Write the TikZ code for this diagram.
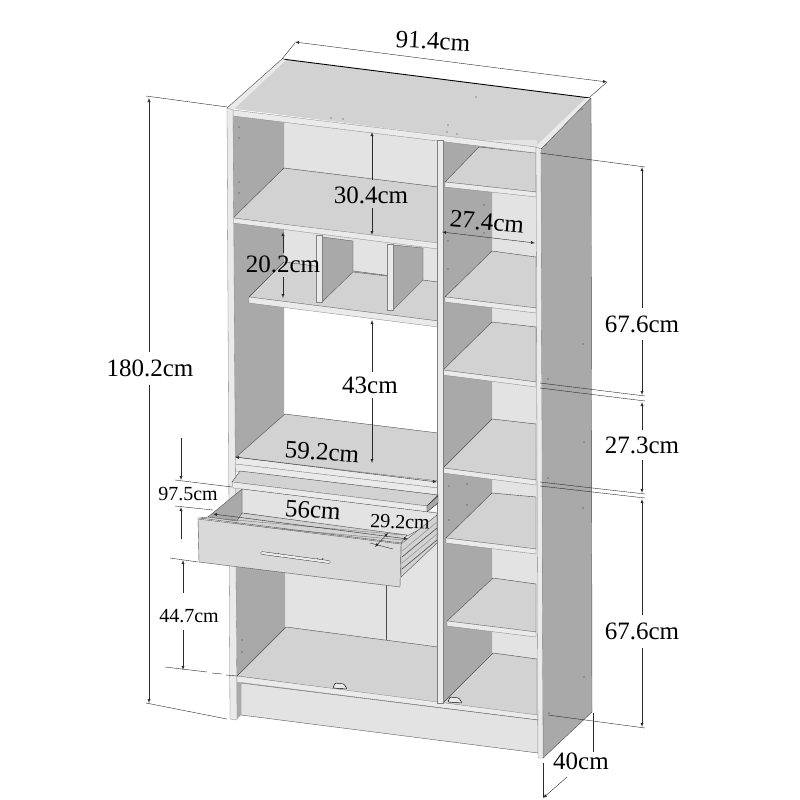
\documentclass[tikz,border=0pt]{standalone}
\usepackage{fontspec}
\setmainfont{Liberation Serif}
\usetikzlibrary{arrows}
\definecolor{topgrey}{HTML}{D2D2D2}
\definecolor{sidegrey}{HTML}{A9A9A9}
\definecolor{backgrey}{HTML}{E3E3E3}
\definecolor{edgegrey}{HTML}{EAEAEA}
\definecolor{dimgrey}{HTML}{2A2A2A}
\tikzset{
  side/.style={fill=sidegrey},
  surface/.style={fill=topgrey,draw=black!70,line width=.4pt},
  backwall/.style={fill=backgrey},
  band/.style={fill=edgegrey,draw=black!50,line width=.3pt},
  panel/.style={fill=backgrey,draw=black!65,line width=.4pt},
  dimline/.style={draw=dimgrey,line width=.4pt,>=latex},
  extline/.style={draw=dimgrey,line width=.4pt},
  biglabel/.style={font=\fontsize{25}{27}\selectfont,inner sep=0pt},
  smalllabel/.style={font=\fontsize{20}{22}\selectfont,inner sep=0pt}
}
\begin{document}
\begin{tikzpicture}[x=1pt,y=-1pt]
  \useasboundingbox (0,0) rectangle (800,800);
  % top and outer side
  \fill[topgrey] (227,108) -- (282,59) -- (590,98) -- (535,147) -- cycle;
  \draw[line width=.9pt] (282,59) -- (590,98);
  \fill[edgegrey] (227,108) -- (282,59) -- (286,60) -- (233,110) -- cycle;
  \draw[line width=.4pt,black!70] (227,108) -- (282,59);
  \fill[edgegrey] (535,147) -- (586,98) -- (590,98) -- (540,149) -- cycle;
  \draw[side,draw=black!70,line width=.4pt] (540,150) -- (591,98) -- (592,712) -- (543,758) -- cycle;
  % right column
  \fill[backwall] (443,140) rectangle (537,716);
  \fill[side] (443,141) -- (492,147) -- (492,653) -- (443,703) -- cycle;
  \foreach \xf/\yf/\yr/\xb/\ybl/\ybr in {445/182/192/479/147/153,445/297/308/492/251/257,
      443/370/382/492/322/327,443/468/480/492/419/424,446/538/549/492/493/497,447/621/632/493/578/584} {
    \draw[surface] (\xf,\yf) -- (\xb,\ybl) -- (536,\ybr) -- (536,\yr) -- cycle;
    \draw[band] (\xf,\yf) -- (536,\yr) -- (536,\yr+5) -- (\xf,\yf+5) -- cycle;
  }
  \draw[surface] (443,703) -- (493,653) -- (537,659) -- (537,716) -- cycle;
  % left column, upper part
  \fill[backwall] (233,112) -- (438,138) -- (438,322) -- (233,298) -- cycle;
  \fill[white] (284,310) -- (438,322) -- (438,440) -- (284,420) -- cycle;
  \fill[side] (233,115) -- (284,122) -- (284,168) -- (233,218) -- cycle;
  \fill[side] (233,222) -- (284,229) -- (284,415) -- (233,460) -- cycle;
  \draw[surface] (233,218) -- (284,168) -- (438,187) -- (438,244) -- cycle;
  \draw[band] (233,218) -- (438,243) -- (438,249) -- (233,223) -- cycle;
  % shelf with the two uprights
  \draw[surface] (249,297) -- (284,262) -- (438,282) -- (438,321) -- cycle;
  \draw[side,draw=black!70,line width=.3pt] (322,237) -- (353,241) -- (353,272) -- (322,302) -- cycle;
  \draw[line width=.35pt,black!70] (353,272) -- (387,276);
  \draw[side,draw=black!70,line width=.3pt] (393,245) -- (423,248) -- (423,280) -- (393,310) -- cycle;
  \draw[band] (316,235) rectangle (322,302);
  \draw[band] (387,244) rectangle (393,310);
  \draw[band] (249,297) -- (438,321) -- (438,327) -- (249,303) -- cycle;
  % microwave shelf
  \draw[surface] (235,458) -- (285,414) -- (438,433) -- (438,481) -- cycle;
  \draw[band] (235,457) -- (438,481) -- (438,488) -- (235,464) -- cycle;
  \draw[band] (235,464) -- (438,488) -- (438,495) -- (235,471) -- cycle;
  % behind the drawer, lower compartment
  \fill[backwall] (233,487) -- (438,512) -- (438,650) -- (233,630) -- cycle;
  \fill[side] (235,520) -- (285,573) -- (285,628) -- (237,676) -- cycle;
  \draw[line width=.4pt,black!70] (386,585) -- (386,640);
  \draw[surface] (237,676) -- (286,627) -- (438,647) -- (438,703) -- cycle;
  \draw[band] (237,676) -- (538,715) -- (538,720) -- (237,682) -- cycle;
  \draw[panel] (241,683) -- (538,720) -- (538,753) -- (241,715) -- cycle;
  \foreach \xh/\yh in {340/686,455/700} {
    \draw[line width=.45pt,fill=edgegrey,rounded corners=1pt] (\xh-7,\yh+2) -- (\xh-5,\yh-3) -- (\xh+4,\yh-2) -- (\xh+7,\yh+3) -- cycle;
  }
  % front edges of the carcass
  \draw[band] (233,110) -- (536,147) -- (536,153) -- (233,116) -- cycle;
  \draw[band] (437,140) rectangle (443,703);
  \draw[band] (536,147) -- (541,149) -- (543,758) -- (538,758) -- cycle;
  \draw[band] (227,108) -- (233,110) -- (237,720) -- (230,719) -- cycle;
  \fill[sidegrey] (237,682) -- (241,683) -- (241,715) -- (237,719) -- cycle;
  % pull-out board
  \draw[surface] (240,471) -- (438,495) -- (427,506) -- (232,482) -- cycle;
  \draw[band] (232,482) -- (427,506) -- (427,512) -- (233,488) -- cycle;
  \draw[side,draw=black!80,line width=.45pt] (427,506) -- (438,496) -- (438,503) -- (427,512) -- cycle;
  % drawer
  \draw[backwall,draw=black!70,line width=.35pt] (242,489) -- (437,513) -- (437,520) -- (407,536) -- (242,513) -- cycle;
  \draw[surface] (242,513) -- (407,535) -- (401,543) -- (199,518) -- cycle;
  \draw[side,draw=black!70,line width=.35pt] (242,489) -- (208,517) -- (237,521) -- (242,513) -- cycle;
  \foreach \yd in {4,9,14} {
    \draw[line width=.3pt,black!60] (225,515+\yd) -- (403,531+\yd);
  }
  \draw[topgrey,fill=topgrey,draw=black!70,line width=.35pt] (401,544) -- (437,515) -- (437,543) -- (401,577) -- cycle;
  \foreach \yr/\gr in {7/40,13/70,19/40,25/70} {
    \draw[line width=.6pt,black!\gr] (402,544+\yr) -- (437,515+\yr);
  }
  \draw[panel,fill=topgrey!85!white] (198,519) -- (401,544) -- (400,587) -- (199,562) -- cycle;
  \draw[line width=.4pt] (273,553) arc (180:0:3);
  \draw[line width=.4pt] (317,558) arc (180:0:3);
  \draw[line width=3.2pt,line cap=round,black!75] (262,553) -- (329,562);
  \draw[line width=2.3pt,line cap=round,edgegrey] (262,553) -- (329,562);
  % screw holes
  \foreach \xs/\ys in {331/118,343/119,448/125,447/132,457/134,476/97,582/109,546/145,239/127,239/138,
      239/182,239/193,484/205,484/233,448/241,448/269,583/344,548/379,584/442,548/478,583/508,549/713,584/677,
      449/486,449/520,467/484,467/505,242/640,242/652} {
    \fill[black!80] (\xs,\ys) circle (.6pt);
  }
  % dimensions, outside
  \draw[extline] (282,59) -- (295,43);
  \draw[extline] (590,97) -- (607,82);
  \draw[dimline,<->] (295,42) -- (607,82);
  \draw[extline] (146,96) -- (227,107);
  \draw[extline] (146,703) -- (227,719);
  \draw[dimline,<-] (149,98) -- (149,352);
  \draw[dimline,->] (149,385) -- (149,703);
  \draw[extline] (540,153) -- (645,167);
  \draw[extline] (540,383) -- (645,396);
  \draw[extline] (540,388) -- (645,401);
  \draw[extline] (540,482) -- (645,494);
  \draw[extline] (540,486) -- (645,498);
  \draw[extline] (548,715) -- (645,728);
  \draw[dimline,<-] (642,167) -- (642,308);
  \draw[dimline,->] (642,340) -- (642,395);
  \draw[dimline,<-] (642,402) -- (642,430);
  \draw[dimline,->] (642,460) -- (642,493);
  \draw[dimline,<-] (642,499) -- (642,615);
  \draw[dimline,->] (642,648) -- (642,727);
  \draw[extline] (593,713) -- (593,752);
  \draw[extline] (543,763) -- (543,797);
  \draw[dimline,<-] (543,798) -- (567,777);
  \draw[extline] (175,480) -- (232,487);
  \draw[extline] (175,506) -- (213,510);
  \draw[dimline,->] (181,438) -- (181,480);
  \draw[dimline,->] (181,539) -- (181,507);
  \draw[extline] (170,558) -- (198,562);
  \draw[dimline,->] (183,593) -- (183,560);
  \draw[dimline,->] (183,630) -- (183,670);
  \draw[extline] (165,667) -- (207,672);
  \draw[extline] (212,673) -- (222,674);
  \draw[extline] (226,675) -- (237,676);
  % dimensions, inside
  \draw[dimline,<-] (372,132) -- (372,180);
  \draw[dimline,->] (372,208) -- (372,235);
  \draw[dimline,<->] (442,232) -- (535,243);
  \draw[dimline,<-] (283,232) -- (283,253);
  \draw[dimline,->] (283,277) -- (283,298);
  \draw[dimline,<-] (372,320) -- (372,372);
  \draw[dimline,->] (372,398) -- (372,463);
  \draw[dimline,<->] (235,457) -- (437,482);
  \draw[dimline,<->] (213,514) -- (408,539);
  \draw[dimline,<->] (388,533) -- (375,547);
  \draw[extline] (370,543) -- (393,549);
  % labels
  \node[biglabel,rotate=-3] (depthtop) at (433,41) {91.4cm};
  \node[biglabel] (heightall) at (150,368) {180.2cm};
  \node[biglabel] (heightup) at (642,324) {67.6cm};
  \node[biglabel] (heightmid) at (642,445) {27.3cm};
  \node[biglabel] (heightlow) at (642,631) {67.6cm};
  \node[biglabel] (depthfoot) at (581,761) {40cm};
  \node[biglabel] (shelfa) at (371,195) {30.4cm};
  \node[biglabel,rotate=-5] (shelfb) at (487,222) {27.4cm};
  \node[biglabel] (cubby) at (283,264) {20.2cm};
  \node[biglabel] (oven) at (370,385) {43cm};
  \node[biglabel,rotate=-4] (boardw) at (322,452) {59.2cm};
  \node[biglabel,rotate=-4] (drawerw) at (313,510) {56cm};
  \node[smalllabel,rotate=-2] (drawerd) at (400,522) {29.2cm};
  \node[smalllabel] (drawerh) at (188,494) {97.5cm};
  \node[smalllabel] (drawerb) at (189,616) {44.7cm};
\end{tikzpicture}
\end{document}
